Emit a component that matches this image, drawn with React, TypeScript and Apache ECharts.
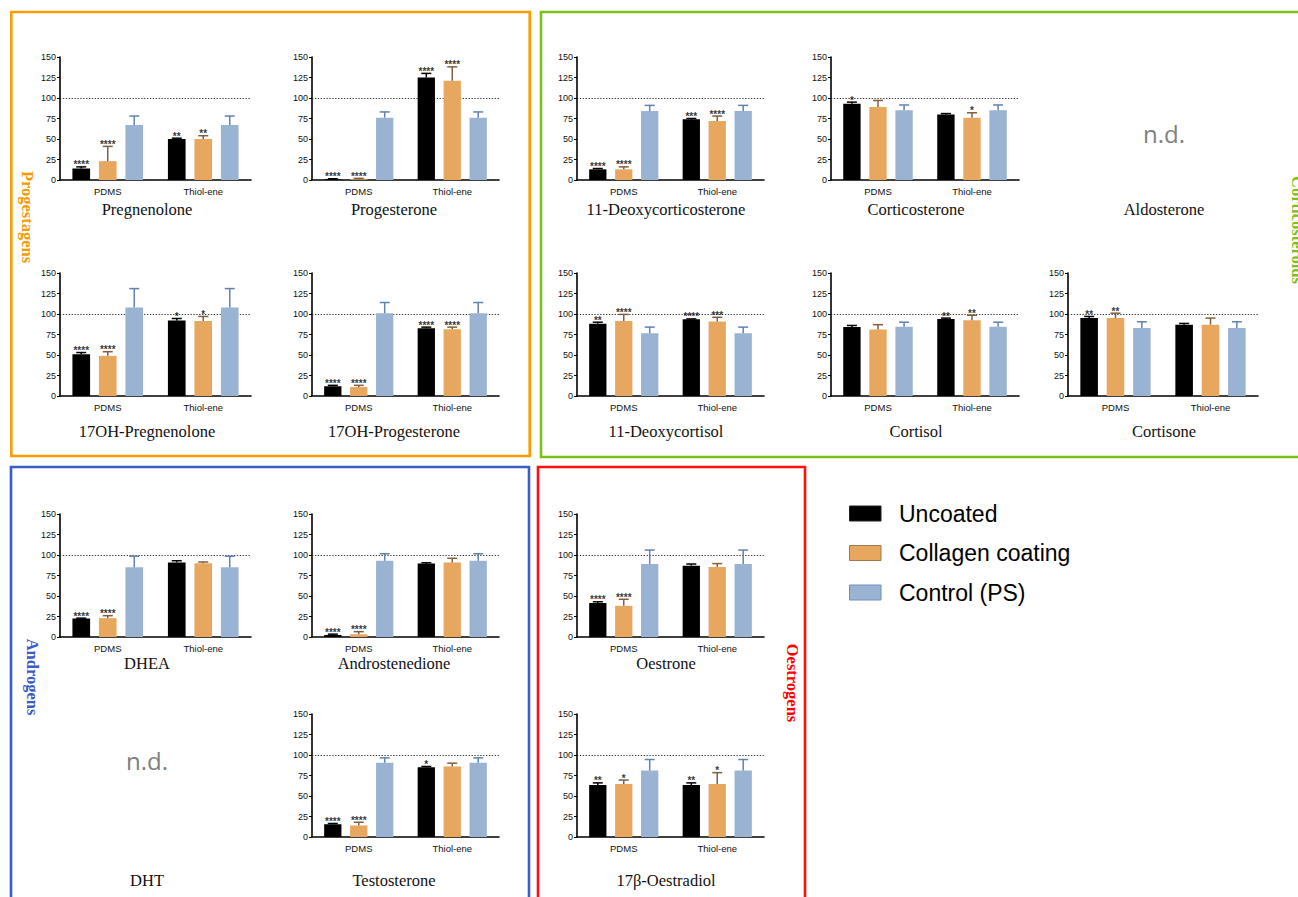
import React, { useEffect, useRef } from "react";
import * as echarts from "echarts";

// ---------- data ----------
const categories = ["PDMS", "Thiol-ene"];
const treatments = ["Uncoated", "Collagen coating", "Control (PS)"];
const yTicks = { min: 0, max: 150, interval: 25 };
const referenceLine = 100;

// each: [Uncoated, Collagen coating, Control (PS)] x [PDMS, Thiol-ene]
const pregnenoloneMean = [[14, 50], [23, 50], [67, 67]];
const pregnenoloneSd = [[2, 1], [18, 4], [11, 11]];
const pregnenoloneStars = [["****", "**"], ["****", "**"], ["", ""]];

const progesteroneMean = [[1, 125], [1, 121], [76, 76]];
const progesteroneSd = [[0.5, 5], [1, 17], [7, 7]];
const progesteroneStars = [["****", "****"], ["****", "****"], ["", ""]];

const deoxycorticosteroneMean = [[13, 74], [13, 72], [84, 84]];
const deoxycorticosteroneSd = [[1, 1], [3, 6], [7, 7]];
const deoxycorticosteroneStars = [["****", "***"], ["****", "****"], ["", ""]];

const corticosteroneMean = [[93, 80], [89, 76], [85, 85]];
const corticosteroneSd = [[2, 1], [8, 6], [6.5, 6.5]];
const corticosteroneStars = [["*", ""], ["", "*"], ["", ""]];

const ohPregnenoloneMean = [[51, 92], [49, 91.5], [108, 108]];
const ohPregnenoloneSd = [[2, 2.5], [5, 5.5], [23, 23]];
const ohPregnenoloneStars = [["****", "*"], ["****", "*"], ["", ""]];

const ohProgesteroneMean = [[12, 82.5], [11, 81.5], [101, 101]];
const ohProgesteroneSd = [[1, 1.5], [2, 2.5], [13, 13]];
const ohProgesteroneStars = [["****", "****"], ["****", "****"], ["", ""]];

const deoxycortisolMean = [[88, 93.5], [91.5, 91], [76.5, 76.5]];
const deoxycortisolSd = [[2, 0.5], [8, 5], [7.5, 7.5]];
const deoxycortisolStars = [["**", "****"], ["****", "***"], ["", ""]];

const cortisolMean = [[84, 94], [81, 92.5], [84.5, 84.5]];
const cortisolSd = [[2, 1], [6, 6], [5.5, 5.5]];
const cortisolStars = [["", "**"], ["", "**"], ["", ""]];

const cortisoneMean = [[95, 87], [95, 87], [83, 83]];
const cortisoneSd = [[2, 1.5], [6, 8], [7.5, 7.5]];
const cortisoneStars = [["**", ""], ["**", ""], ["", ""]];

const dheaMean = [[22.5, 91], [23, 90], [85, 85]];
const dheaSd = [[0.5, 2], [3, 1.5], [13.5, 13.5]];
const dheaStars = [["****", ""], ["****", ""], ["", ""]];

const androstenedioneMean = [[2.5, 89.5], [3.5, 91], [93, 93]];
const androstenedioneSd = [[1, 1], [3, 5], [8.5, 8.5]];
const androstenedioneStars = [["****", ""], ["****", ""], ["", ""]];

const oestroneMean = [[41.5, 87], [38, 85.5], [89, 89]];
const oestroneSd = [[1.5, 2], [8, 4], [17, 17]];
const oestroneStars = [["****", ""], ["****", ""], ["", ""]];

const testosteroneMean = [[15.5, 85], [14, 86], [90.5, 90.5]];
const testosteroneSd = [[1, 1], [4, 4], [6, 6]];
const testosteroneStars = [["****", "*"], ["****", ""], ["", ""]];

const oestradiolMean = [[63.5, 63.5], [64.5, 64.5], [81, 81]];
const oestradiolSd = [[2.5, 2.5], [5, 14], [13.5, 13.5]];
const oestradiolStars = [["**", "**"], ["*", "*"], ["", ""]];

const notDetected = ["Aldosterone", "DHT"];
const groupNames = ["Progestagens", "Corticosteroids", "Androgens", "Oestrogens"];

// ---------- layout ----------
const colLeft = [60, 312, 577, 831, 1068];
const colWidth = [191, 187, 187, 188, 190];
const rowTop = [57, 273, 514, 714];
const plotHeight = 123;
const titleX = [147, 394, 666, 916, 1164];
const titleY = [209, 431, 663, 880];

const panels = [
  { name: "Pregnenolone", mean: pregnenoloneMean, sd: pregnenoloneSd, stars: pregnenoloneStars, col: 0, row: 0 },
  { name: "Progesterone", mean: progesteroneMean, sd: progesteroneSd, stars: progesteroneStars, col: 1, row: 0 },
  { name: "11-Deoxycorticosterone", mean: deoxycorticosteroneMean, sd: deoxycorticosteroneSd, stars: deoxycorticosteroneStars, col: 2, row: 0 },
  { name: "Corticosterone", mean: corticosteroneMean, sd: corticosteroneSd, stars: corticosteroneStars, col: 3, row: 0 },
  { name: "17OH-Pregnenolone", mean: ohPregnenoloneMean, sd: ohPregnenoloneSd, stars: ohPregnenoloneStars, col: 0, row: 1 },
  { name: "17OH-Progesterone", mean: ohProgesteroneMean, sd: ohProgesteroneSd, stars: ohProgesteroneStars, col: 1, row: 1 },
  { name: "11-Deoxycortisol", mean: deoxycortisolMean, sd: deoxycortisolSd, stars: deoxycortisolStars, col: 2, row: 1 },
  { name: "Cortisol", mean: cortisolMean, sd: cortisolSd, stars: cortisolStars, col: 3, row: 1 },
  { name: "Cortisone", mean: cortisoneMean, sd: cortisoneSd, stars: cortisoneStars, col: 4, row: 1 },
  { name: "DHEA", mean: dheaMean, sd: dheaSd, stars: dheaStars, col: 0, row: 2 },
  { name: "Androstenedione", mean: androstenedioneMean, sd: androstenedioneSd, stars: androstenedioneStars, col: 1, row: 2 },
  { name: "Oestrone", mean: oestroneMean, sd: oestroneSd, stars: oestroneStars, col: 2, row: 2 },
  { name: "Testosterone", mean: testosteroneMean, sd: testosteroneSd, stars: testosteroneStars, col: 1, row: 3 },
  { name: "17β-Oestradiol", mean: oestradiolMean, sd: oestradiolSd, stars: oestradiolStars, col: 2, row: 3 },
];
const ndPanels = [
  { name: notDetected[0], col: 4, row: 0, ndY: 133 },
  { name: notDetected[1], col: 0, row: 3, ndY: 760 },
];

const FONT_SANS = '"Liberation Sans", Arial, sans-serif';
const FONT_SERIF = '"Liberation Serif", "Times New Roman", serif';

const barColors = ["#000000", "#E8A75F", "#9AB3D3"];
const errColors = ["#000000", "#7E6040", "#5F82AE"];
const legendBorders = ["#222222", "#A07850", "#6F8FBB"];
const BAR_FRAC = 0.185;
const BAR_GAP = 0.5;

function buildOption() {
  const grid: any[] = [];
  const xAxis: any[] = [];
  const yAxis: any[] = [];
  const series: any[] = [];

  panels.forEach((p, i) => {
    grid.push({ left: colLeft[p.col], top: rowTop[p.row], width: colWidth[p.col], height: plotHeight });
    xAxis.push({
      type: "category",
      gridIndex: i,
      data: categories,
      axisLine: { lineStyle: { color: "#000", width: 1.6 } },
      axisTick: { alignWithLabel: true, length: 4, lineStyle: { color: "#000", width: 1.4 } },
      axisLabel: { fontSize: 9.5, color: "#111", margin: 6, fontFamily: FONT_SANS },
    });
    yAxis.push({
      type: "value",
      gridIndex: i,
      min: yTicks.min,
      max: yTicks.max,
      interval: yTicks.interval,
      axisLine: { show: true, lineStyle: { color: "#000", width: 1.6 } },
      axisTick: { show: true, length: 3, lineStyle: { color: "#000", width: 1 } },
      splitLine: { show: false },
      axisLabel: { fontSize: 9, color: "#111", margin: 4, fontFamily: FONT_SANS },
    });
    const band = colWidth[p.col] / categories.length;
    treatments.forEach((t, k) => {
      const s: any = {
        type: "bar",
        name: t,
        xAxisIndex: i,
        yAxisIndex: i,
        data: p.mean[k],
        barWidth: BAR_FRAC * 100 + "%",
        barGap: BAR_GAP * 100 + "%",
        itemStyle: { color: barColors[k] },
        silent: true,
        z: 2,
      };
      if (k === 0) {
        s.markLine = {
          silent: true,
          symbol: "none",
          label: { show: false },
          lineStyle: { type: [1.3, 1.6], color: "#333", width: 1 },
          data: [{ yAxis: referenceLine }],
          z: 1,
        };
      }
      series.push(s);
    });
    treatments.forEach((t, k) => {
      // error bars (mean -> mean + SD)
      series.push({
        type: "custom",
        name: t + " SD",
        xAxisIndex: i,
        yAxisIndex: i,
        silent: true,
        z: 5,
        data: categories.map((c, j) => [j, p.mean[k][j], p.mean[k][j] + p.sd[k][j]]),
        renderItem: (params: any, api: any) => {
          const j = api.value(0);
          const base = api.coord([j, api.value(1)]);
          const topPt = api.coord([j, api.value(2)]);
          const bw = api.size([1, 0])[0];
          const cx = base[0] + (k - 1) * (1 + BAR_GAP) * BAR_FRAC * bw;
          const st = { stroke: errColors[k], lineWidth: 1.5, fill: "none" };
          return {
            type: "group",
            children: [
              { type: "line", shape: { x1: cx, y1: base[1], x2: cx, y2: topPt[1] }, style: st },
              { type: "line", shape: { x1: cx - 5, y1: topPt[1], x2: cx + 5, y2: topPt[1] }, style: st },
            ],
          };
        },
      });
      // significance stars above error bars
      const stars = p.stars[k];
      if (stars.some((s) => s)) {
        series.push({
          type: "scatter",
          name: t + " sig",
          xAxisIndex: i,
          yAxisIndex: i,
          silent: true,
          z: 6,
          symbolSize: 1,
          itemStyle: { color: "rgba(0,0,0,0)" },
          data: categories.map((c, j) => [j, p.mean[k][j] + p.sd[k][j]]),
          label: {
            show: true,
            position: "inside",
            offset: [(k - 1) * (1 + BAR_GAP) * BAR_FRAC * band, -2],
            formatter: (prm: any) => stars[prm.dataIndex] || "",
            color: "#000000",
            fontSize: 10,
            fontWeight: "bold",
            fontFamily: FONT_SANS,
            align: "center",
            verticalAlign: "middle",
          },
        });
      }
    });
  });

  const graphic: any[] = [];
  // group boxes
  const boxes = [
    { x: 11.3, y: 12, w: 518.4, h: 444, c: "#FF9A00" },
    { x: 541, y: 12, w: 780, h: 445, c: "#7DBE1B" },
    { x: 11, y: 467, w: 518, h: 460, c: "#3A5CC6" },
    { x: 538, y: 467, w: 267, h: 460, c: "#FF1010" },
  ];
  boxes.forEach((b) =>
    graphic.push({
      type: "rect",
      shape: { x: b.x, y: b.y, width: b.w, height: b.h },
      style: { fill: "none", stroke: b.c, lineWidth: 2.6 },
      silent: true,
    })
  );
  // group labels
  const groupPos = [
    { x: 27, y: 217, c: "#F59A00" },
    { x: 1297, y: 230, c: "#7DBE1B" },
    { x: 32, y: 677, c: "#3A5CC6" },
    { x: 792, y: 683, c: "#FF0000" },
  ];
  groupNames.forEach((g, i) =>
    graphic.push({
      type: "text",
      x: groupPos[i].x,
      y: groupPos[i].y,
      rotation: -Math.PI / 2,
      silent: true,
      style: {
        text: g,
        fill: groupPos[i].c,
        fontSize: 16.5,
        fontWeight: "bold",
        fontFamily: FONT_SERIF,
        align: "center",
        verticalAlign: "middle",
      },
    })
  );
  // panel titles
  [...panels, ...ndPanels].forEach((p) =>
    graphic.push({
      type: "text",
      x: titleX[p.col],
      y: titleY[p.row],
      silent: true,
      style: { text: p.name, fill: "#111", fontSize: 16.5, fontFamily: FONT_SERIF, align: "center", verticalAlign: "middle" },
    })
  );
  // n.d.
  ndPanels.forEach((p) =>
    graphic.push({
      type: "text",
      x: titleX[p.col],
      y: p.ndY,
      silent: true,
      style: { text: "n.d.", fill: "#7F7F7F", fontSize: 24, fontFamily: '"Open Sans", "Liberation Sans", sans-serif', align: "center", verticalAlign: "middle" },
    })
  );
  // legend
  treatments.forEach((t, k) => {
    const cy = 513.5 + k * 39.5;
    graphic.push({
      type: "rect",
      silent: true,
      shape: { x: 849.5, y: cy - 7.5, width: 31.5, height: 15 },
      style: { fill: barColors[k], stroke: legendBorders[k], lineWidth: 1 },
    });
    graphic.push({
      type: "text",
      x: 899,
      y: cy,
      silent: true,
      style: { text: t, fill: "#000", fontSize: 23, fontFamily: FONT_SANS, align: "left", verticalAlign: "middle" },
    });
  });

  return {
    animation: false,
    backgroundColor: "#ffffff",
    grid,
    xAxis,
    yAxis,
    series,
    graphic,
  };
}

export default function App() {
  const ref = useRef<HTMLDivElement>(null);
  useEffect(() => {
    const chart = echarts.init(ref.current as HTMLDivElement, null, { renderer: "svg" });
    chart.setOption(buildOption() as any);
    return () => chart.dispose();
  }, []);
  return (
    <div
      ref={ref}
      style={{ position: "absolute", left: 0, top: 0, width: 1298, height: 897, background: "#fff" }}
    />
  );
}
